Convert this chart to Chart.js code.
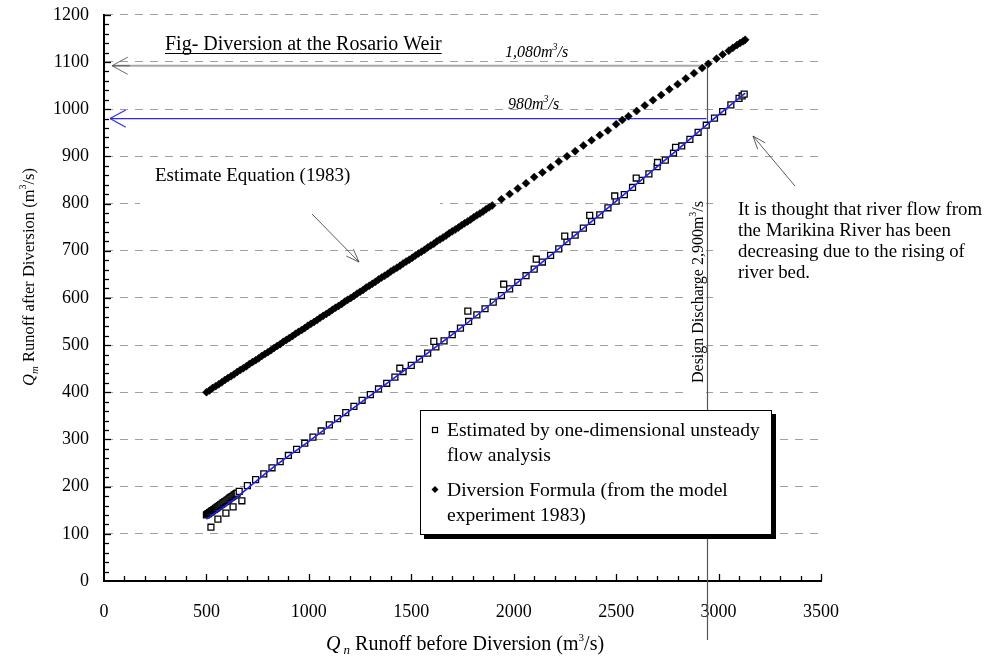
<!DOCTYPE html>
<html>
<head>
<meta charset="utf-8">
<title>Diversion at the Rosario Weir</title>
<script src="https://cdn.jsdelivr.net/npm/chart.js@4.4.1/dist/chart.umd.min.js"></script>
<style>
  html, body { margin: 0; padding: 0; background: #fff; }
  #wrap { width: 989px; height: 660px; }
</style>
</head>
<body>
<div id="wrap"><canvas id="chart" width="989" height="660"></canvas></div>
<script>
// ── Data ──
// Diversion Formula (model experiment 1983) : filled diamonds
const qnFormula = [
  500, 515, 530, 545, 560, 575, 590, 605, 620, 635,
  650, 665, 680, 695, 710, 725, 740, 755, 770, 785,
  800, 815, 830, 845, 860, 875, 890, 905, 920, 935,
  950, 965, 980, 995, 1010, 1025, 1040, 1055, 1070, 1085,
  1100, 1115, 1130, 1145, 1160, 1175, 1190, 1205, 1220, 1235,
  1250, 1265, 1280, 1295, 1310, 1325, 1340, 1355, 1370, 1385,
  1400, 1415, 1430, 1445, 1460, 1475, 1490, 1505, 1520, 1535,
  1550, 1565, 1580, 1595, 1610, 1625, 1640, 1655, 1670, 1685,
  1700, 1715, 1730, 1745, 1760, 1775, 1790, 1805, 1820, 1835,
  1850, 1865, 1880, 1895,
  1940, 1980, 2020, 2060, 2100, 2140, 2180, 2220, 2260, 2300, 2340, 2380, 2420, 2460, 2500, 2530, 2560, 2600,
  2640, 2680, 2720, 2760, 2800, 2840, 2880, 2920, 2950, 2990, 3020, 3050, 3070, 3090, 3105, 3120, 3130
];
const qmFormula = [
  400, 404, 409, 413, 417, 421, 426, 430, 434, 438,
  443, 447, 451, 455, 460, 464, 468, 472, 477, 481,
  485, 489, 494, 498, 502, 507, 511, 515, 519, 524,
  528, 532, 536, 541, 545, 549, 553, 558, 562, 566,
  570, 575, 579, 583, 587, 592, 596, 600, 604, 609,
  613, 617, 622, 626, 630, 634, 639, 643, 647, 651,
  656, 660, 664, 668, 673, 677, 681, 685, 690, 694,
  698, 702, 707, 711, 715, 720, 724, 728, 732, 737,
  741, 745, 749, 754, 758, 762, 766, 771, 775, 779,
  783, 788, 792, 796,
  809, 820, 832, 843, 856, 866, 877, 889, 900, 911, 923, 934, 945, 955, 968, 977, 985, 996,
  1008, 1019, 1030, 1042, 1053, 1065, 1076, 1087, 1096, 1107, 1116, 1124, 1130, 1136, 1140, 1144, 1147
];

// Estimated by one-dimensional unsteady flow analysis : open squares
const qnSim = [
  500, 505, 510, 515, 520, 525, 530, 535, 540, 545, 550, 555, 560, 565, 570, 575,
  580, 585, 590, 595, 600, 605, 610, 615, 620, 625, 630, 635, 640, 645, 650, 660,
  700, 740, 780, 820, 860, 900, 940, 980, 1020, 1060, 1100, 1140, 1180, 1220, 1260,
  1300, 1340, 1380, 1420, 1460, 1500, 1540, 1580, 1620, 1660, 1700, 1740, 1780, 1820, 1860,
  1900, 1940, 1980, 2020, 2060, 2100, 2140, 2180, 2220, 2260, 2300, 2340, 2380, 2420, 2460,
  2500, 2540, 2580, 2620, 2660, 2700, 2740, 2780, 2820, 2860, 2900, 2940, 2980, 3020, 3060, 3100,
  3115, 3125,
  522, 556, 595, 630, 673, 1444, 1610, 1776, 1951, 2110, 2249, 2371, 2493, 2598, 2702, 2790
];
const qmSim = [
  140, 142, 143, 145, 146, 148, 149, 151, 152, 154, 155, 157, 158, 160, 162, 163,
  165, 166, 168, 169, 171, 172, 174, 176, 177, 179, 180, 182, 183, 185, 186, 190,
  202, 215, 227, 240, 253, 266, 279, 292, 305, 318, 331, 344, 357, 370, 383,
  395, 407, 419, 432, 444, 457, 470, 483, 496, 509, 522, 536, 550, 564, 577,
  591, 605, 619, 633, 647, 661, 676, 690, 704, 719, 733, 748, 762, 776, 791,
  805, 819, 834, 849, 863, 878, 892, 907, 922, 936, 951, 966, 981, 995, 1009, 1023,
  1028, 1032,
  114, 131, 144, 157, 170, 451, 508, 572, 629, 682, 731, 775, 816, 854, 887, 919
];

// blue curve drawn through the squares
const qnFit = [500, 650, 800, 1000, 1250, 1500, 1750, 2000, 2250, 2500, 2750, 3000, 3130];
const qmFit = [131, 178, 232, 296, 377, 457, 539, 626, 715, 805, 896, 988, 1034];

// reference lines
const designQ = 2946;      // Design Discharge 2,900m3/s
const lineQ1080 = 1092;    // 1,080m3/s line
const lineQ980 = 980;      // 980m3/s line

const xTicks = [0, 500, 1000, 1500, 2000, 2500, 3000, 3500];
const yTicks = [0, 100, 200, 300, 400, 500, 600, 700, 800, 900, 1000, 1100, 1200];

const FONT = "'Liberation Serif', 'Times New Roman', serif";

const zip = (xs, ys) => xs.map((x, i) => ({ x: x, y: ys[i] }));

// ── petits outils de dessin ──
function runsWidth(ctx, runs) {
  let w = 0;
  runs.forEach(r => { ctx.font = r.f; w += ctx.measureText(r.t).width; });
  return w;
}
function drawRuns(ctx, x, y, runs) {
  ctx.textAlign = 'left';
  ctx.textBaseline = 'alphabetic';
  runs.forEach(r => {
    ctx.font = r.f;
    ctx.fillText(r.t, x, y + (r.dy || 0));
    x += ctx.measureText(r.t).width;
  });
}
function line(ctx, x1, y1, x2, y2) {
  ctx.beginPath(); ctx.moveTo(x1, y1); ctx.lineTo(x2, y2); ctx.stroke();
}
function arrow(ctx, x1, y1, x2, y2, len, ang) {
  line(ctx, x1, y1, x2, y2);
  const a = Math.atan2(y2 - y1, x2 - x1);
  line(ctx, x2, y2, x2 - len * Math.cos(a - ang), y2 - len * Math.sin(a - ang));
  line(ctx, x2, y2, x2 - len * Math.cos(a + ang), y2 - len * Math.sin(a + ang));
}

const annotations = {
  id: 'annotations',
  beforeDraw(chart) {
    const ctx = chart.ctx;
    ctx.save();
    ctx.fillStyle = '#fff';
    ctx.fillRect(0, 0, chart.width, chart.height);
    ctx.restore();
  },
  beforeDatasetsDraw(chart) {
    const ctx = chart.ctx;
    const xs = chart.scales.x, ys = chart.scales.y;
    const X = v => xs.getPixelForValue(v);
    const Y = v => ys.getPixelForValue(v);
    const area = chart.chartArea;
    ctx.save();

    // text boxes hide the grid behind them
    ctx.fillStyle = '#fff';
    ctx.fillRect(140, 162, 300, 50);
    ctx.fillRect(720, 167, 269, 168);
    ctx.fillRect(688, 190, 18, 206);

    // tick marks (inside)
    ctx.strokeStyle = '#000';
    ctx.lineWidth = 1.3;
    for (let v = 20; v <= 1200; v += 20) {
      const y = Math.round(Y(v)) + 0.5;
      line(ctx, area.left, y, area.left + (v % 100 === 0 ? 7 : 5), y);
    }
    for (let v = 100; v <= 3500; v += 100) {
      const x = Math.round(X(v)) + 0.5;
      line(ctx, x, area.bottom, x, area.bottom - (v % 500 === 0 ? 7 : 5));
    }

    // design discharge vertical line
    ctx.strokeStyle = '#555';
    ctx.lineWidth = 1.2;
    line(ctx, X(designQ), Y(lineQ1080), X(designQ), area.bottom + 59);

    // 1,080 line (grey) with arrow
    ctx.strokeStyle = '#a8a8a8';
    ctx.lineWidth = 2;
    line(ctx, X(designQ), Y(lineQ1080), area.left + 9, Y(lineQ1080));
    ctx.strokeStyle = '#444';
    ctx.lineWidth = 0.8;
    arrow(ctx, area.left + 26, Y(lineQ1080), area.left + 8, Y(lineQ1080), 18, 0.5);

    // 980 line (blue) with arrow
    ctx.strokeStyle = '#2a2aff';
    ctx.lineWidth = 1.1;
    arrow(ctx, X(designQ) - 1, Y(lineQ980), area.left + 6, Y(lineQ980), 18, 0.5);

    // diagonal arrows
    ctx.strokeStyle = '#333';
    ctx.lineWidth = 0.8;
    arrow(ctx, 312, 214, 359, 262, 14, 0.36);
    arrow(ctx, 795, 186, 753, 136, 14, 0.36);

    // texts
    ctx.fillStyle = '#000';
    const t19 = '19px ' + FONT, i16 = 'italic 16px ' + FONT, s11 = '11px ' + FONT;

    // title, underlined
    const title = [{ t: 'Fig- Diversion at the Rosario Weir', f: '20px ' + FONT }];
    drawRuns(ctx, 165, 50, title);
    ctx.strokeStyle = '#000'; ctx.lineWidth = 1.2;
    line(ctx, 165, 53.5, 165 + runsWidth(ctx, title), 53.5);

    drawRuns(ctx, 505, 57, [{ t: '1,080m', f: i16 }, { t: '3', f: 'italic 10px ' + FONT, dy: -7 }, { t: '/s', f: i16 }]);
    drawRuns(ctx, 508, 109, [{ t: '980m', f: i16 }, { t: '3', f: 'italic 10px ' + FONT, dy: -7 }, { t: '/s', f: i16 }]);

    drawRuns(ctx, 155, 181, [{ t: 'Estimate Equation (1983)', f: t19 }]);

    ['It is thought that river flow from', 'the Marikina River has been',
     'decreasing due to the rising of', 'river bed.'].forEach((s, i) => {
      drawRuns(ctx, 738, 215 + i * 21, [{ t: s, f: '18.8px ' + FONT }]);
    });

    // rotated design discharge label
    const dd = [{ t: 'Design Discharge 2,900m', f: '16px ' + FONT }, { t: '3', f: '10px ' + FONT, dy: -7 }, { t: '/s', f: '16px ' + FONT }];
    ctx.save();
    ctx.translate(703, 292);
    ctx.rotate(-Math.PI / 2);
    drawRuns(ctx, -runsWidth(ctx, dd) / 2, 0, dd);
    ctx.restore();

    // axis titles
    const xt = [
      { t: 'Q', f: 'italic 20px ' + FONT }, { t: ' n', f: 'italic 13px ' + FONT, dy: 4 },
      { t: ' Runoff before Diversion (m', f: '20px ' + FONT }, { t: '3', f: s11, dy: -9 }, { t: '/s)', f: '20px ' + FONT }
    ];
    drawRuns(ctx, 465 - runsWidth(ctx, xt) / 2, 650, xt);

    const yt = [
      { t: 'Q', f: 'italic 16.5px ' + FONT }, { t: 'm', f: 'italic 11px ' + FONT, dy: 4 },
      { t: ' Runoff after Diversion (m', f: '16.5px ' + FONT }, { t: '3', f: '10px ' + FONT, dy: -8 }, { t: '/s)', f: '16.5px ' + FONT }
    ];
    ctx.save();
    ctx.translate(34, 277);
    ctx.rotate(-Math.PI / 2);
    drawRuns(ctx, -runsWidth(ctx, yt) / 2, 0, yt);
    ctx.restore();

    ctx.restore();
  },
  afterDatasetsDraw(chart) {
    // legend box with drop shadow
    const ctx = chart.ctx;
    ctx.save();
    ctx.fillStyle = '#000';
    ctx.fillRect(424, 414, 352, 125);
    ctx.fillStyle = '#fff';
    ctx.fillRect(420, 410, 352, 125);
    ctx.strokeStyle = '#000';
    ctx.lineWidth = 1;
    ctx.strokeRect(420.5, 410.5, 351, 124);

    ctx.lineWidth = 1.2;
    ctx.strokeRect(432.5, 427.5, 5, 5);
    ctx.fillStyle = '#000';
    ctx.beginPath();
    ctx.moveTo(435, 486); ctx.lineTo(438.5, 489.5); ctx.lineTo(435, 493); ctx.lineTo(431.5, 489.5);
    ctx.closePath(); ctx.fill();

    const f = '19.6px ' + FONT;
    drawRuns(ctx, 447, 436, [{ t: 'Estimated by one-dimensional unsteady', f: f }]);
    drawRuns(ctx, 447, 461, [{ t: 'flow analysis', f: f }]);
    drawRuns(ctx, 447, 496, [{ t: 'Diversion Formula (from the model', f: f }]);
    drawRuns(ctx, 447, 521, [{ t: 'experiment 1983)', f: f }]);
    ctx.restore();
  }
};

new Chart(document.getElementById('chart'), {
  type: 'scatter',
  data: {
    datasets: [
      {
        label: 'fit',
        data: zip(qnFit, qmFit),
        showLine: true,
        borderColor: '#1f1fff',
        borderWidth: 1.6,
        pointRadius: 0,
        cubicInterpolationMode: 'monotone',
        order: 0
      },
      {
        label: 'Estimated by one-dimensional unsteady flow analysis',
        data: zip(qnSim, qmSim),
        pointStyle: 'rect',
        pointRadius: 4.2,
        borderColor: '#000',
        backgroundColor: '#fff',
        borderWidth: 1.3,
        order: 1
      },
      {
        label: 'Diversion Formula (from the model experiment 1983)',
        data: zip(qnFormula, qmFormula),
        pointStyle: 'rectRot',
        pointRadius: 4,
        borderColor: '#000',
        backgroundColor: '#000',
        borderWidth: 0.5,
        order: 2
      }
    ]
  },
  options: {
    responsive: false,
    animation: false,
    layout: { padding: { left: 0, top: 5, right: 168, bottom: 0 } },
    plugins: { legend: { display: false }, tooltip: { enabled: false } },
    scales: {
      x: {
        type: 'linear',
        min: xTicks[0],
        max: xTicks[xTicks.length - 1],
        afterBuildTicks: s => { s.ticks = xTicks.map(v => ({ value: v })); },
        ticks: {
          color: '#000',
          font: { family: FONT, size: 18 },
          padding: 12,
          maxRotation: 0,
          callback: v => String(v)
        },
        grid: { display: false },
        border: { display: true, color: '#000', width: 2 },
        afterFit: s => { s.height = 79; }
      },
      y: {
        min: yTicks[0],
        max: yTicks[yTicks.length - 1],
        afterBuildTicks: s => { s.ticks = yTicks.map(v => ({ value: v })); },
        ticks: {
          color: '#000',
          font: { family: FONT, size: 18 },
          padding: 4,
          callback: v => String(v)
        },
        grid: {
          drawTicks: true,
          tickLength: 11,
          tickColor: 'rgba(0,0,0,0)',
          lineWidth: 1,
          color: c => (c.tick && c.tick.value === 0 ? 'rgba(0,0,0,0)' : '#a0a0a0')
        },
        border: { display: true, color: '#000', width: 2, dash: [8, 7] },
        afterFit: s => { s.width = 104; }
      }
    }
  },
  plugins: [annotations]
});
</script>
</body>
</html>
